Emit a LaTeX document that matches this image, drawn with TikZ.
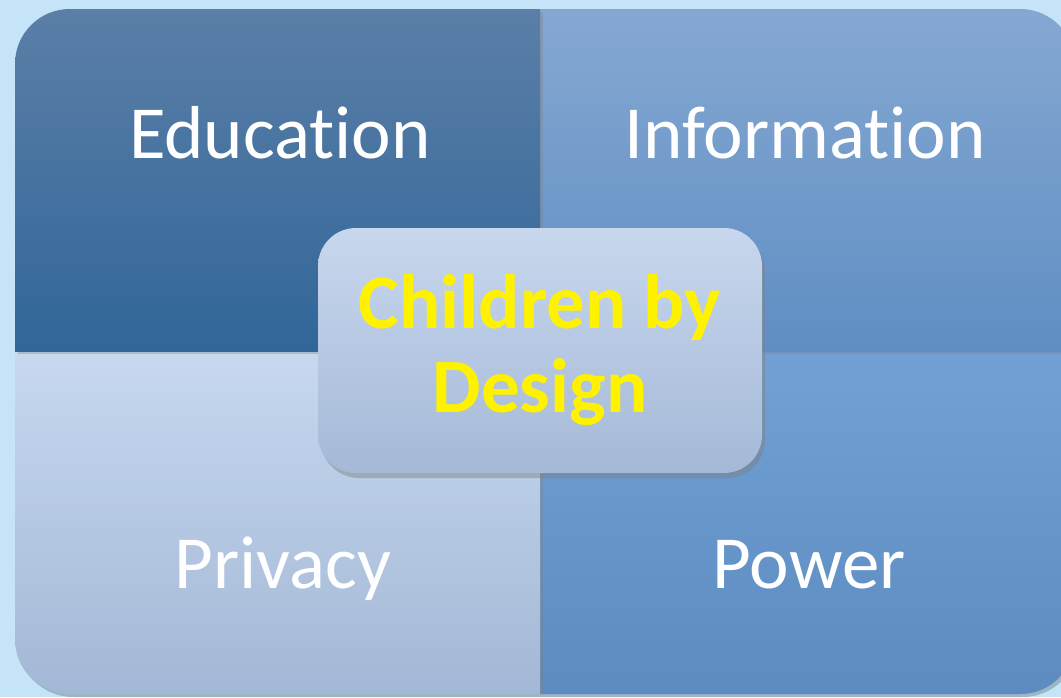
\documentclass[tikz,border=0pt]{standalone}
\usepackage{fontspec}
\setmainfont{Carlito}[RawFeature={-liga}]
\usetikzlibrary{shadows}
\definecolor{bgblue}{HTML}{C5E4F8}
\definecolor{edutop}{HTML}{5B7FA7}
\definecolor{edubot}{HTML}{316699}
\definecolor{infotop}{HTML}{85A8D1}
\definecolor{infobot}{HTML}{5F8EC4}
\definecolor{privtop}{HTML}{C7D8EF}
\definecolor{privbot}{HTML}{A3B8D6}
\definecolor{powtop}{HTML}{71A1D5}
\definecolor{powbot}{HTML}{5D8BBF}
\definecolor{coretop}{HTML}{C7D7ED}
\definecolor{corebot}{HTML}{A5B9D7}
\begin{document}
\begin{tikzpicture}[x=1pt,y=-1pt,
  quad/.style={drop shadow={shadow xshift=2.5pt,shadow yshift=-2.5pt,opacity=0.35}},
  quadlabel/.style={anchor=base,text=white,font=\fontsize{75}{90}\selectfont},
  corebox/.style={rounded corners=38pt,minimum width=444pt,minimum height=245pt,
    top color=coretop,bottom color=corebot,
    drop shadow={shadow xshift=3pt,shadow yshift=-5pt,opacity=0.45}},
  ]
\fill[bgblue] (0,0) rectangle (1061,697);
\useasboundingbox (0,0) rectangle (1061,697);

\fill[black,opacity=0.2,rounded corners=55] (18,12) rectangle (1078,697);
\begin{scope}
\clip[rounded corners=55] (15,9) rectangle (1075,694);
\path[quad,top color=powtop,bottom color=powbot] (540,351) rectangle (1075,694);
\path[quad,top color=infotop,bottom color=infobot] (540,9) rectangle (1075,351);
\path[quad,top color=privtop,bottom color=privbot] (15,351) rectangle (540,694);
\path[quad,top color=edutop,bottom color=edubot] (15,9) rectangle (540,351);
\end{scope}

\node[quadlabel] (edu) at (280,158) {Education};
\node[quadlabel] (info) at (805,158) {Information};
\node[quadlabel] (priv) at (283,588) {Privacy};
\node[quadlabel] (pow) at (809,588) {Power};

\node[corebox] (core) at (540,350.5) {};
\node[text=yellow,align=center,font=\fontsize{77}{84}\selectfont\bfseries] (title)
  at (core.center) {Children by\\Design};
\end{tikzpicture}
\end{document}
